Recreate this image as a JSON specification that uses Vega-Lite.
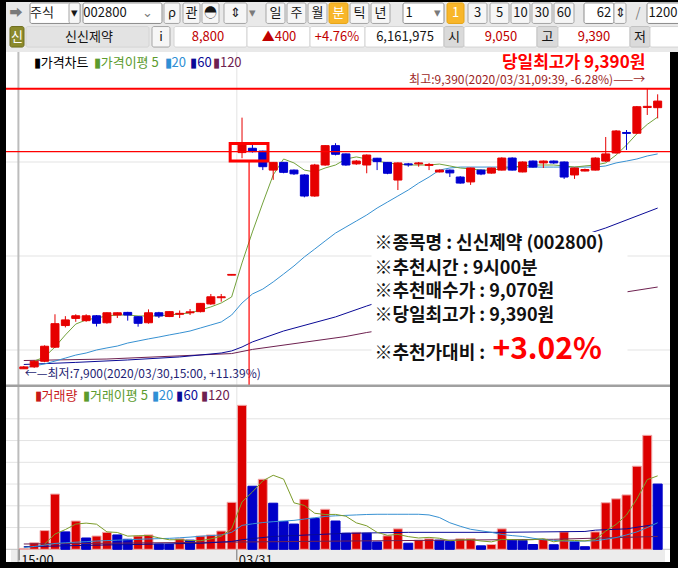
{
"$schema": "https://vega.github.io/schema/vega-lite/v6.json",
"background": "#000000",
"padding": {"left": 4, "top": 2, "right": 0, "bottom": 6},
"spacing": 0,
"bounds": "flush",
"resolve": {"scale": {"fill": "independent", "stroke": "independent", "color": "independent"}},
"config": {"view": {"stroke": null}, "font": "Noto Sans CJK KR"},
"datasets": {
"bars": [
{"i":0,"o":7900,"h":7915,"l":7900,"c":7910,"v":2,"vd":"up","m20":7904,"m60":7923,"m120":7944,"v20":3.7,"v60":6,"v120":12.2},
{"i":1,"o":7910,"h":7945,"l":7905,"c":7940,"v":15,"vd":"up","m5":7941,"m20":7915,"v20":6.5},
{"i":2,"o":7940,"h":8025,"l":7935,"c":8020,"v":43,"vd":"up","m5":7963,"m20":7926,"v5":12,"v20":9.5},
{"i":3,"o":8015,"h":8190,"l":8010,"c":8140,"v":127,"vd":"up","m5":8016,"m20":7941,"v5":35,"v20":13.5},
{"i":4,"o":8130,"h":8180,"l":8120,"c":8160,"v":40,"vd":"down","m5":8080,"m20":7957,"v5":45.4,"v20":15},
{"i":5,"o":8168,"h":8190,"l":8150,"c":8182,"v":65,"vd":"up","m5":8138,"m20":7973,"m60":7934,"v5":58,"v20":16.3},
{"i":6,"o":8156,"h":8190,"l":8150,"c":8182,"v":26,"vd":"down","m5":8160,"m20":7984,"v5":60.2,"v20":17.5},
{"i":7,"o":8182,"h":8186,"l":8125,"c":8142,"v":30.5,"vd":"up","m5":8170,"m20":8000,"v5":57.7,"v20":19},
{"i":8,"o":8145,"h":8200,"l":8140,"c":8198,"v":39,"vd":"up","m5":8181,"m20":8011,"m120":7952,"v5":40.1,"v20":20,"v60":10},
{"i":9,"o":8186,"h":8200,"l":8170,"c":8198,"v":33,"vd":"down","m5":8186,"m20":8021,"v5":38.7,"v20":21},
{"i":10,"o":8200,"h":8203,"l":8156,"c":8186,"v":23,"vd":"down","m5":8186,"m20":8037,"m60":7947,"v5":30.3,"v20":22},
{"i":11,"o":8177,"h":8180,"l":8124,"c":8142,"v":30.5,"vd":"up","m5":8181,"m20":8048,"v5":31.2,"v20":23},
{"i":12,"o":8145,"h":8216,"l":8140,"c":8198,"v":33,"vd":"up","m5":8181,"m20":8059,"v5":31.7,"v20":23.8},
{"i":13,"o":8198,"h":8203,"l":8170,"c":8181,"v":12,"vd":"down","m5":8181,"m20":8069,"v5":26.3,"v20":24.5},
{"i":14,"o":8178,"h":8206,"l":8175,"c":8204,"v":11,"vd":"down","m5":8186,"m20":8080,"v5":21.9,"v20":25.2},
{"i":15,"o":8190,"h":8210,"l":8170,"c":8195,"v":24,"vd":"up","m5":8192,"m20":8090,"m60":7963,"v5":22.1,"v20":26.5},
{"i":16,"o":8198,"h":8218,"l":8186,"c":8203,"v":21,"vd":"down","m5":8197,"m20":8101,"v5":20.2,"v20":28},
{"i":17,"o":8204,"h":8250,"l":8200,"c":8248,"v":30.5,"vd":"up","m5":8213,"m20":8117,"v5":19.7,"v20":30,"v60":13.8},
{"i":18,"o":8245,"h":8298,"l":8240,"c":8283,"v":33,"vd":"up","m5":8229,"m20":8133,"v5":23.9,"v20":31.5},
{"i":19,"o":8278,"h":8298,"l":8257,"c":8283,"v":42,"vd":"up","m5":8250,"m20":8149,"m60":7984,"v5":30.1,"v20":33},
{"i":20,"o":8398,"h":8402,"l":8398,"c":8402,"v":108,"vd":"up","m5":8282,"m20":8186,"m60":7995,"m120":7981,"v5":46.9,"v20":39,"v60":18},
{"i":21,"o":9050,"h":9236,"l":9020,"c":9095,"v":331,"vd":"up","m5":8463,"m20":8250,"m60":8016,"v5":108.9,"v20":55,"v60":22},
{"i":22,"o":9073,"h":9094,"l":9050,"c":9055,"v":145,"vd":"down","m5":8628,"m20":8298,"m60":8043,"m120":8003,"v5":131.8,"v20":58.5},
{"i":23,"o":9058,"h":9060,"l":8957,"c":8975,"v":161,"vd":"up","m5":8782,"m20":8324,"v5":157.4,"v20":61.5},
{"i":24,"o":8957,"h":9000,"l":8905,"c":8998,"v":106,"vd":"down","m5":8931,"m20":8362,"v5":170.2,"v20":63.5,"v60":29.5},
{"i":25,"o":8998,"h":9000,"l":8940,"c":8945,"v":64,"vd":"down","m5":9016,"m20":8404,"m60":8101,"v5":161.4,"v20":65},
{"i":26,"o":8957,"h":8960,"l":8931,"c":8937,"v":58,"vd":"down","m5":8995,"m20":8447,"v5":106.8,"v20":66.5},
{"i":27,"o":8931,"h":8935,"l":8812,"c":8819,"v":115,"vd":"up","m5":8957,"m20":8495,"v5":100.8,"v20":69.5},
{"i":28,"o":8819,"h":8990,"l":8815,"c":8984,"v":71,"vd":"down","m5":8947,"m20":8537,"v5":82.8,"v20":72.5},
{"i":29,"o":8984,"h":9090,"l":8980,"c":9087,"v":92,"vd":"up","m5":8968,"m20":8580,"v5":80,"v20":75.5},
{"i":30,"o":9087,"h":9100,"l":9035,"c":9041,"v":65,"vd":"down","m5":8984,"m20":8622,"m60":8176,"v5":80.2,"v20":77},
{"i":31,"o":9043,"h":9045,"l":8980,"c":8984,"v":37,"vd":"down","m5":9016,"m20":8654,"m120":8072,"v5":76,"v20":78,"v60":36.8,"v120":19},
{"i":32,"o":8990,"h":9010,"l":8985,"c":9005,"v":39,"vd":"up","m5":9027,"m20":8686,"v5":60.8,"v20":79},
{"i":33,"o":8984,"h":9040,"l":8940,"c":9037,"v":37,"vd":"down","m5":9016,"m20":8718,"m60":8234,"m120":8093,"v5":54,"v20":80},
{"i":34,"o":9020,"h":9022,"l":8957,"c":9002,"v":17,"vd":"down","m5":9005,"m20":8755,"v5":39,"v20":80.5},
{"i":35,"o":8998,"h":9000,"l":8935,"c":8940,"v":31,"vd":"up","m5":8995,"m20":8787,"v5":32.2,"v20":80.5},
{"i":36,"o":8904,"h":8998,"l":8851,"c":8995,"v":47,"vd":"up","m5":8989,"m20":8819,"v5":34.2,"v20":80.5},
{"i":37,"o":8990,"h":8995,"l":8975,"c":8985,"v":14,"vd":"down","m5":8984,"m20":8851,"v5":29.2,"v20":80.5,"v60":39},
{"i":38,"o":8990,"h":9000,"l":8975,"c":8995,"v":21,"vd":"up","m5":8984,"m20":8888,"v5":26,"v20":80.5},
{"i":39,"o":8982,"h":8995,"l":8957,"c":8987,"v":24,"vd":"up","m5":8984,"m20":8920,"v5":27.4,"v20":79},
{"i":40,"o":8947,"h":8960,"l":8945,"c":8957,"v":21,"vd":"down","m5":8989,"m20":8957,"v5":25.4,"v20":73},
{"i":41,"o":8957,"h":8960,"l":8920,"c":8942,"v":18,"vd":"down","m5":8979,"m20":8968,"v5":19.6,"v20":61},
{"i":42,"o":8920,"h":8925,"l":8885,"c":8888,"v":24,"vd":"up","m5":8968,"m20":8973,"v5":21.6,"v20":53},
{"i":43,"o":8894,"h":8970,"l":8878,"c":8968,"v":24.5,"vd":"up","m5":8963,"m20":8973,"v5":22.3,"v20":46},
{"i":44,"o":8957,"h":8960,"l":8930,"c":8936,"v":8,"vd":"down","m5":8957,"m20":8973,"v5":19.1,"v20":42.5},
{"i":45,"o":8941,"h":8970,"l":8938,"c":8968,"v":11,"vd":"up","m5":8957,"m20":8973,"v5":17.1,"v20":39},
{"i":46,"o":8957,"h":9025,"l":8955,"c":9021,"v":47,"vd":"up","m5":8963,"m20":8973,"v5":22.9,"v20":34,"v60":39},
{"i":47,"o":9021,"h":9025,"l":8955,"c":8957,"v":21,"vd":"down","m5":8973,"m20":8973,"v5":22.3,"v20":31.5},
{"i":48,"o":8947,"h":9003,"l":8945,"c":9000,"v":20.5,"vd":"down","m5":8979,"m20":8973,"v5":21.5,"v20":29.5},
{"i":49,"o":9005,"h":9008,"l":8970,"c":8973,"v":11,"vd":"down","m5":8984,"m20":8973,"v5":22.1,"v20":25.5},
{"i":50,"o":8995,"h":9008,"l":8968,"c":9005,"v":23,"vd":"up","m5":8984,"m20":8973,"v5":24.5,"v20":22},
{"i":51,"o":9005,"h":9008,"l":8990,"c":8995,"v":10.5,"vd":"down","m5":8984,"m20":8973,"v5":17.2,"v20":20.5,"v120":23},
{"i":52,"o":9000,"h":9003,"l":8910,"c":8920,"v":40,"vd":"up","m5":8979,"m20":8973,"v5":21,"v20":19},
{"i":53,"o":8931,"h":8970,"l":8910,"c":8968,"v":17,"vd":"down","m5":8973,"m20":8973,"v5":20.3,"v20":18.5},
{"i":54,"o":8952,"h":8965,"l":8950,"c":8960,"v":6,"vd":"down","m5":8979,"m20":8973,"v5":19.3,"v20":19,"v60":41},
{"i":55,"o":8957,"h":9025,"l":8955,"c":9021,"v":40,"vd":"up","m5":8984,"m20":8973,"v5":22.7,"v20":19.6,"v60":44},
{"i":56,"o":9005,"h":9133,"l":9000,"c":9043,"v":107,"vd":"up","m5":8995,"m20":8979,"m60":8649,"v5":42,"v20":23},
{"i":57,"o":9048,"h":9170,"l":9045,"c":9165,"v":116,"vd":"up","m5":9037,"m20":8995,"v5":57.2,"v20":27},
{"i":58,"o":9157,"h":9170,"l":9064,"c":9152,"v":125,"vd":"up","m5":9090,"m20":9005,"m120":8309,"v5":78.8,"v20":33,"v60":47},
{"i":59,"o":9153,"h":9298,"l":9150,"c":9294,"v":191,"vd":"up","m5":9150,"m20":9016,"v5":115.8,"v20":40},
{"i":60,"o":9290,"h":9390,"l":9250,"c":9296,"v":262,"vd":"up","m5":9200,"m20":9032,"v5":160.2,"v20":50},
{"i":61,"o":9289,"h":9360,"l":9232,"c":9324,"v":150,"vd":"down","m5":9239,"m20":9043,"m60":8755,"m120":8335,"v5":168.8,"v20":61,"v60":58,"v120":29.5}
],
"hdr": [
{"r":1,"x0":6,"x1":22,"tx":14,"k":"plain","t":"➡"},
{"r":1,"x0":28,"x1":78,"tx":40,"k":"field","t":"주식"},
{"r":1,"x0":67,"x1":78,"tx":72.5,"k":"btn","t":"▾"},
{"r":1,"x0":81,"x1":160,"tx":103,"k":"field","t":"002800"},
{"r":1,"x0":140,"x1":150,"tx":145,"k":"plain","t":"⌄"},
{"r":1,"x0":162,"x1":178,"tx":170,"k":"btn","t":"ρ"},
{"r":1,"x0":181,"x1":198,"tx":189.5,"k":"btn","t":"관"},
{"r":1,"x0":200,"x1":217,"tx":208.5,"k":"btn","t":"◓"},
{"r":1,"x0":222,"x1":245,"tx":233.5,"k":"btn","t":"⇕"},
{"r":1,"x0":246,"x1":254,"tx":250,"k":"plain","t":"▾"},
{"r":1,"x0":264,"x1":283,"tx":273.5,"k":"btn","t":"일"},
{"r":1,"x0":285,"x1":304,"tx":294.5,"k":"btn","t":"주"},
{"r":1,"x0":306,"x1":325,"tx":315.5,"k":"btn","t":"월"},
{"r":1,"x0":327,"x1":346,"tx":336.5,"k":"act","t":"분"},
{"r":1,"x0":348,"x1":367,"tx":357.5,"k":"btn","t":"틱"},
{"r":1,"x0":369,"x1":388,"tx":378.5,"k":"btn","t":"년"},
{"r":1,"x0":401,"x1":442,"tx":407,"k":"field","t":"1"},
{"r":1,"x0":428,"x1":442,"tx":435,"k":"plain","t":"▾"},
{"r":1,"x0":445,"x1":462,"tx":453.5,"k":"act","t":"1"},
{"r":1,"x0":466,"x1":485,"tx":475.5,"k":"btn","t":"3"},
{"r":1,"x0":488,"x1":507,"tx":497.5,"k":"btn","t":"5"},
{"r":1,"x0":509,"x1":528,"tx":518.5,"k":"btn","t":"10"},
{"r":1,"x0":530,"x1":550,"tx":540,"k":"btn","t":"30"},
{"r":1,"x0":552,"x1":572,"tx":562,"k":"btn","t":"60"},
{"r":1,"x0":582,"x1":612,"tx":602,"k":"field","t":"62"},
{"r":1,"x0":612,"x1":624,"tx":618,"k":"btn","t":"⇕"},
{"r":1,"x0":630,"x1":642,"tx":636,"k":"plain","t":"/"},
{"r":1,"x0":645,"x1":678,"tx":661,"k":"field","t":"1200"},
{"r":2,"x0":8,"x1":22,"tx":15,"k":"ico","t":"신"},
{"r":2,"x0":24,"x1":147,"tx":87,"k":"name","t":"신신제약"},
{"r":2,"x0":150,"x1":168,"tx":159,"k":"btn","t":"i"},
{"r":2,"x0":172,"x1":245,"tx":206,"k":"cell","t":"8,800","tone":"up"},
{"r":2,"x0":245,"x1":308,"tx":277,"k":"cell","t":"▲400","tone":"up"},
{"r":2,"x0":308,"x1":363,"tx":335,"k":"cell","t":"+4.76%","tone":"up"},
{"r":2,"x0":363,"x1":442,"tx":403,"k":"cell","t":"6,161,975"},
{"r":2,"x0":442,"x1":462,"tx":452,"k":"lab","t":"시"},
{"r":2,"x0":462,"x1":535,"tx":499,"k":"cell","t":"9,050","tone":"up"},
{"r":2,"x0":535,"x1":556,"tx":545.5,"k":"lab","t":"고"},
{"r":2,"x0":556,"x1":628,"tx":592,"k":"cell","t":"9,390","tone":"up"},
{"r":2,"x0":628,"x1":648,"tx":638,"k":"lab","t":"저"},
{"r":2,"x0":648,"x1":678,"tx":663,"k":"cell","t":""}
],
"plegend": [
{"li":0.95,"t":"▮가격차트","k":"candle"},
{"li":6.73,"t":"▮가격이평 5","k":"ma5"},
{"li":13.55,"t":"▮20","k":"ma20"},
{"li":16.02,"t":"▮60","k":"ma60"},
{"li":18.2,"t":"▮120","k":"ma120"}
],
"vlegend": [
{"li":1.04,"t":"▮거래량","k":"vol"},
{"li":5.69,"t":"▮거래이평 5","k":"ma5"},
{"li":12.32,"t":"▮20","k":"ma20"},
{"li":14.69,"t":"▮60","k":"ma60"},
{"li":17.06,"t":"▮120","k":"ma120"}
],
"notes": [
{"i":33.74,"p":8564,"t":"※종목명 : 신신제약 (002800)","kind":"box"},
{"i":33.74,"p":8433,"t":"※추천시간 : 9시00분","kind":"box"},
{"i":33.74,"p":8308,"t":"※추천매수가 : 9,070원","kind":"box"},
{"i":33.74,"p":8181,"t":"※당일최고가 : 9,390원","kind":"box"},
{"i":33.74,"p":7979,"t":"※추천가대비 :","kind":"box"},
{"i":45.1,"p":8000,"t":"+3.02%","kind":"big"},
{"i":59.81,"p":9529,"t":"당일최고가 9,390원","kind":"hi"},
{"i":59.81,"p":9434,"t":"최고:9,390(2020/03/31,09:39, -6.28%)——→","kind":"hisub"},
{"i":0.1,"p":7872,"t":"←—최저:7,900(2020/03/30,15:00, +11.39%)","kind":"lo"}
],
"pgrid": [{"g":8000},{"g":8500},{"g":9000}],
"vgrid": [{"g":50},{"g":100},{"g":150},{"g":200},{"g":250},{"g":300}],
"xlab": [{"i":-0.45,"lab":"15:00"},{"i":20.5,"lab":"03/31"}]
},
"vconcat": [
{
"width": 674, "height": 50,
"view": {"fill": "#e9e9e9", "stroke": null},
"data": {"name": "hdr"},
"layer": [
{"transform": [{"filter": "datum.k !== 'plain'"}],
 "mark": {"type": "rect", "cornerRadius": 2, "strokeWidth": 1},
 "encoding": {
  "x": {"field": "x0", "type": "quantitative", "scale": {"domain": [4, 678], "nice": false, "zero": false}, "axis": null},
  "x2": {"field": "x1"},
  "y": {"field": "r", "type": "ordinal", "scale": {"domain": [1, 2], "range": [0, 46], "paddingInner": 0.13, "paddingOuter": 0.04}, "axis": null},
  "fill": {"condition": [{"test": "datum.k === 'btn'", "value": "#f6f6f6"}, {"test": "datum.k === 'act'", "value": "#f8b62a"}, {"test": "datum.k === 'ico'", "value": "#8b8a2c"}, {"test": "datum.k === 'name'", "value": "#e3e3e3"}, {"test": "datum.k === 'lab'", "value": "#dadada"}], "value": "#ffffff"},
  "stroke": {"condition": [{"test": "datum.k === 'btn'", "value": "#a5a5a5"}, {"test": "datum.k === 'field'", "value": "#8c8c8c"}, {"test": "datum.k === 'act'", "value": "#e5a516"}, {"test": "datum.k === 'ico'", "value": "#6e6d1e"}, {"test": "datum.k === 'lab'", "value": "#c2c2c2"}], "value": "#d4d4d4"}
 }},
{"mark": {"type": "text", "fontSize": 13, "baseline": "middle", "align": "center"},
 "encoding": {
  "x": {"field": "tx", "type": "quantitative", "scale": {"domain": [4, 678], "nice": false, "zero": false}, "axis": null},
  "y": {"field": "r", "type": "ordinal", "scale": {"domain": [1, 2], "range": [0, 46], "paddingInner": 0.13, "paddingOuter": 0.04}, "axis": null},
  "text": {"field": "t"},
  "color": {"condition": [{"test": "datum.tone === 'up'", "value": "#c00000"}, {"test": "datum.k === 'act' || datum.k === 'ico'", "value": "#ffffff"}, {"test": "datum.k === 'plain'", "value": "#7a7a7a"}], "value": "#151515"}
 }}
]
},
{
"width": 664, "height": 333,
"view": {"fill": "#ffffff", "stroke": null},
"data": {"name": "bars"},
"layer": [
{"data": {"name": "pgrid"}, "mark": {"type": "rule", "color": "#e3e3e3", "strokeWidth": 1},
 "encoding": {"y": {"field": "g", "type": "quantitative", "scale": {"domain": [7813.8, 9585.1], "nice": false, "zero": false}, "axis": null}}},
{"data": {"values": [{}]}, "mark": {"type": "rule", "color": "#e3e3e3", "strokeWidth": 1},
 "encoding": {"x": {"datum": 20.5, "type": "quantitative", "scale": {"domain": [-1.232, 61.706], "nice": false, "zero": false}, "axis": null}}},
{"data": {"values": [{}]}, "mark": {"type": "rule", "color": "#bcbcbc", "strokeWidth": 2},
 "encoding": {"x": {"datum": -0.52, "type": "quantitative", "scale": {"domain": [-1.232, 61.706], "nice": false, "zero": false}, "axis": null}}},
{"transform": [{"filter": "isValid(datum.m120)"}], "mark": {"type": "line", "color": "#6e2150", "strokeWidth": 1},
 "encoding": {"x": {"field": "i", "type": "quantitative", "scale": {"domain": [-1.232, 61.706], "nice": false, "zero": false}, "axis": null},
  "y": {"field": "m120", "type": "quantitative", "scale": {"domain": [7813.8, 9585.1], "nice": false, "zero": false}, "axis": null}}},
{"transform": [{"filter": "isValid(datum.m60)"}], "mark": {"type": "line", "color": "#0a0a96", "strokeWidth": 1},
 "encoding": {"x": {"field": "i", "type": "quantitative", "scale": {"domain": [-1.232, 61.706], "nice": false, "zero": false}, "axis": null},
  "y": {"field": "m60", "type": "quantitative", "scale": {"domain": [7813.8, 9585.1], "nice": false, "zero": false}, "axis": null}}},
{"transform": [{"filter": "isValid(datum.m20)"}], "mark": {"type": "line", "color": "#3791d2", "strokeWidth": 1},
 "encoding": {"x": {"field": "i", "type": "quantitative", "scale": {"domain": [-1.232, 61.706], "nice": false, "zero": false}, "axis": null},
  "y": {"field": "m20", "type": "quantitative", "scale": {"domain": [7813.8, 9585.1], "nice": false, "zero": false}, "axis": null}}},
{"transform": [{"filter": "isValid(datum.m5)"}], "mark": {"type": "line", "color": "#73a23c", "strokeWidth": 1},
 "encoding": {"x": {"field": "i", "type": "quantitative", "scale": {"domain": [-1.232, 61.706], "nice": false, "zero": false}, "axis": null},
  "y": {"field": "m5", "type": "quantitative", "scale": {"domain": [7813.8, 9585.1], "nice": false, "zero": false}, "axis": null}}},
{"mark": {"type": "rule", "strokeWidth": 1},
 "encoding": {"x": {"field": "i", "type": "quantitative", "scale": {"domain": [-1.232, 61.706], "nice": false, "zero": false}, "axis": null},
  "y": {"field": "l", "type": "quantitative", "scale": {"domain": [7813.8, 9585.1], "nice": false, "zero": false}, "axis": null},
  "y2": {"field": "h"},
  "color": {"condition": {"test": "datum.c >= datum.o", "value": "#e60000"}, "value": "#0000d0"}}},
{"mark": {"type": "bar", "width": 8, "strokeWidth": 1},
 "encoding": {"x": {"field": "i", "type": "quantitative", "scale": {"domain": [-1.232, 61.706], "nice": false, "zero": false}, "axis": null},
  "y": {"field": "o", "type": "quantitative", "scale": {"domain": [7813.8, 9585.1], "nice": false, "zero": false}, "axis": null},
  "y2": {"field": "c"},
  "fill": {"condition": {"test": "datum.c >= datum.o", "value": "#e60000"}, "value": "#0000d0"},
  "stroke": {"condition": {"test": "datum.c >= datum.o", "value": "#e60000"}, "value": "#0000d0"}}},
{"data": {"values": [{}]}, "mark": {"type": "rule", "color": "#ff0000", "strokeWidth": 2},
 "encoding": {"y": {"datum": 9390, "type": "quantitative", "scale": {"domain": [7813.8, 9585.1], "nice": false, "zero": false}, "axis": null}}},
{"data": {"values": [{}]}, "mark": {"type": "rule", "color": "#ff0000", "strokeWidth": 1.2},
 "encoding": {"y": {"datum": 9055, "type": "quantitative", "scale": {"domain": [7813.8, 9585.1], "nice": false, "zero": false}, "axis": null}}},
{"data": {"values": [{}]}, "mark": {"type": "rect", "color": "#ffffff"},
 "encoding": {"x": {"datum": 33.46, "type": "quantitative", "scale": {"domain": [-1.232, 61.706], "nice": false, "zero": false}, "axis": null},
  "x2": {"datum": 58.1},
  "y": {"datum": 8628, "type": "quantitative", "scale": {"domain": [7813.8, 9585.1], "nice": false, "zero": false}, "axis": null},
  "y2": {"datum": 7883}}},
{"data": {"name": "notes"}, "transform": [{"filter": "datum.kind === 'box'"}],
 "mark": {"type": "text", "fontSize": 18, "fontWeight": "bold", "align": "left", "baseline": "middle", "color": "#111111"},
 "encoding": {"x": {"field": "i", "type": "quantitative", "scale": {"domain": [-1.232, 61.706], "nice": false, "zero": false}, "axis": null},
  "y": {"field": "p", "type": "quantitative", "scale": {"domain": [7813.8, 9585.1], "nice": false, "zero": false}, "axis": null},
  "text": {"field": "t"}}},
{"data": {"name": "notes"}, "transform": [{"filter": "datum.kind === 'big'"}],
 "mark": {"type": "text", "fontSize": 30, "fontWeight": "bold", "align": "left", "baseline": "middle", "color": "#ff0000"},
 "encoding": {"x": {"field": "i", "type": "quantitative", "scale": {"domain": [-1.232, 61.706], "nice": false, "zero": false}, "axis": null},
  "y": {"field": "p", "type": "quantitative", "scale": {"domain": [7813.8, 9585.1], "nice": false, "zero": false}, "axis": null},
  "text": {"field": "t"}}},
{"data": {"name": "notes"}, "transform": [{"filter": "datum.kind === 'hi'"}],
 "mark": {"type": "text", "fontSize": 17, "fontWeight": "bold", "align": "right", "baseline": "middle", "color": "#ff0000"},
 "encoding": {"x": {"field": "i", "type": "quantitative", "scale": {"domain": [-1.232, 61.706], "nice": false, "zero": false}, "axis": null},
  "y": {"field": "p", "type": "quantitative", "scale": {"domain": [7813.8, 9585.1], "nice": false, "zero": false}, "axis": null},
  "text": {"field": "t"}}},
{"data": {"name": "notes"}, "transform": [{"filter": "datum.kind === 'hisub'"}],
 "mark": {"type": "text", "fontSize": 12, "align": "right", "baseline": "middle", "color": "#9c1f1f"},
 "encoding": {"x": {"field": "i", "type": "quantitative", "scale": {"domain": [-1.232, 61.706], "nice": false, "zero": false}, "axis": null},
  "y": {"field": "p", "type": "quantitative", "scale": {"domain": [7813.8, 9585.1], "nice": false, "zero": false}, "axis": null},
  "text": {"field": "t"}}},
{"data": {"name": "notes"}, "transform": [{"filter": "datum.kind === 'lo'"}],
 "mark": {"type": "text", "fontSize": 12, "align": "left", "baseline": "middle", "color": "#1f1f74"},
 "encoding": {"x": {"field": "i", "type": "quantitative", "scale": {"domain": [-1.232, 61.706], "nice": false, "zero": false}, "axis": null},
  "y": {"field": "p", "type": "quantitative", "scale": {"domain": [7813.8, 9585.1], "nice": false, "zero": false}, "axis": null},
  "text": {"field": "t"}}},
{"data": {"values": [{}]}, "mark": {"type": "rule", "color": "#ff0000", "strokeWidth": 1.2},
 "encoding": {"x": {"datum": 21.68, "type": "quantitative", "scale": {"domain": [-1.232, 61.706], "nice": false, "zero": false}, "axis": null},
  "y": {"datum": 9005, "type": "quantitative", "scale": {"domain": [7813.8, 9585.1], "nice": false, "zero": false}, "axis": null},
  "y2": {"datum": 7813.8}}},
{"data": {"values": [{}]}, "mark": {"type": "rect", "filled": false, "color": "#ff0000", "strokeWidth": 3},
 "encoding": {"x": {"datum": 19.86, "type": "quantitative", "scale": {"domain": [-1.232, 61.706], "nice": false, "zero": false}, "axis": null},
  "x2": {"datum": 23.5},
  "y": {"datum": 9098, "type": "quantitative", "scale": {"domain": [7813.8, 9585.1], "nice": false, "zero": false}, "axis": null},
  "y2": {"datum": 9005}}},
{"data": {"name": "plegend"},
 "mark": {"type": "text", "fontSize": 13, "align": "left", "baseline": "middle"},
 "encoding": {"x": {"field": "li", "type": "quantitative", "scale": {"domain": [-1.232, 61.706], "nice": false, "zero": false}, "axis": null},
  "y": {"datum": 9527, "type": "quantitative", "scale": {"domain": [7813.8, 9585.1], "nice": false, "zero": false}, "axis": null},
  "text": {"field": "t"},
  "color": {"field": "k", "type": "nominal", "scale": {"domain": ["candle","vol","ma5","ma20","ma60","ma120"], "range": ["#000000","#c81818","#5b9b2d","#2f8fd5","#0a0a96","#6e2150"]}, "legend": null}}}
]
},
{
"width": 664, "height": 177,
"view": {"fill": "#ffffff", "stroke": null},
"data": {"name": "bars"},
"layer": [
{"data": {"values": [{}]}, "mark": {"type": "rect", "color": "#ececec"},
 "encoding": {"x": {"datum": -1.232, "type": "quantitative", "scale": {"domain": [-1.232, 61.706], "nice": false, "zero": false}, "axis": null},
  "x2": {"datum": 61.706},
  "y": {"datum": -29.2, "type": "quantitative", "scale": {"domain": [-29.2, 377.7], "nice": false, "zero": false}, "axis": null},
  "y2": {"datum": 0}}},
{"data": {"name": "vgrid"}, "mark": {"type": "rule", "color": "#e3e3e3", "strokeWidth": 1},
 "encoding": {"y": {"field": "g", "type": "quantitative", "scale": {"domain": [-29.2, 377.7], "nice": false, "zero": false}, "axis": null}}},
{"data": {"values": [{}]}, "mark": {"type": "rule", "color": "#c4c4c4", "strokeWidth": 1},
 "encoding": {"y": {"datum": 0, "type": "quantitative", "scale": {"domain": [-29.2, 377.7], "nice": false, "zero": false}, "axis": null}}},
{"data": {"values": [{}]}, "mark": {"type": "rule", "color": "#e3e3e3", "strokeWidth": 1},
 "encoding": {"x": {"datum": 20.5, "type": "quantitative", "scale": {"domain": [-1.232, 61.706], "nice": false, "zero": false}, "axis": null},
  "y": {"datum": 0, "type": "quantitative", "scale": {"domain": [-29.2, 377.7], "nice": false, "zero": false}, "axis": null},
  "y2": {"datum": 377.7}}},
{"data": {"values": [{}]}, "mark": {"type": "rule", "color": "#bcbcbc", "strokeWidth": 2},
 "encoding": {"x": {"datum": -0.52, "type": "quantitative", "scale": {"domain": [-1.232, 61.706], "nice": false, "zero": false}, "axis": null}}},
{"data": {"values": [{}]}, "mark": {"type": "rule", "color": "#a0a0a0", "strokeWidth": 2.5},
 "encoding": {"y": {"datum": 376.2, "type": "quantitative", "scale": {"domain": [-29.2, 377.7], "nice": false, "zero": false}, "axis": null}}},
{"mark": {"type": "bar", "width": 9, "strokeWidth": 1},
 "encoding": {"x": {"field": "i", "type": "quantitative", "scale": {"domain": [-1.232, 61.706], "nice": false, "zero": false}, "axis": null},
  "y": {"field": "v", "type": "quantitative", "scale": {"domain": [-29.2, 377.7], "nice": false, "zero": false}, "axis": null},
  "y2": {"datum": 0},
  "fill": {"condition": {"test": "datum.vd === 'up'", "value": "#dc0000"}, "value": "#0000c8"},
  "stroke": {"condition": {"test": "datum.vd === 'up'", "value": "#f0aaaa"}, "value": "#0000c8"}}},
{"transform": [{"filter": "isValid(datum.v120)"}], "mark": {"type": "line", "color": "#6e2150", "strokeWidth": 1},
 "encoding": {"x": {"field": "i", "type": "quantitative", "scale": {"domain": [-1.232, 61.706], "nice": false, "zero": false}, "axis": null},
  "y": {"field": "v120", "type": "quantitative", "scale": {"domain": [-29.2, 377.7], "nice": false, "zero": false}, "axis": null}}},
{"transform": [{"filter": "isValid(datum.v60)"}], "mark": {"type": "line", "color": "#0a0a96", "strokeWidth": 1},
 "encoding": {"x": {"field": "i", "type": "quantitative", "scale": {"domain": [-1.232, 61.706], "nice": false, "zero": false}, "axis": null},
  "y": {"field": "v60", "type": "quantitative", "scale": {"domain": [-29.2, 377.7], "nice": false, "zero": false}, "axis": null}}},
{"transform": [{"filter": "isValid(datum.v20)"}], "mark": {"type": "line", "color": "#3791d2", "strokeWidth": 1},
 "encoding": {"x": {"field": "i", "type": "quantitative", "scale": {"domain": [-1.232, 61.706], "nice": false, "zero": false}, "axis": null},
  "y": {"field": "v20", "type": "quantitative", "scale": {"domain": [-29.2, 377.7], "nice": false, "zero": false}, "axis": null}}},
{"transform": [{"filter": "isValid(datum.v5)"}], "mark": {"type": "line", "color": "#7c9c2a", "strokeWidth": 1},
 "encoding": {"x": {"field": "i", "type": "quantitative", "scale": {"domain": [-1.232, 61.706], "nice": false, "zero": false}, "axis": null},
  "y": {"field": "v5", "type": "quantitative", "scale": {"domain": [-29.2, 377.7], "nice": false, "zero": false}, "axis": null}}},
{"data": {"name": "xlab"}, "mark": {"type": "rule", "color": "#707070", "strokeWidth": 1},
 "encoding": {"x": {"field": "i", "type": "quantitative", "scale": {"domain": [-1.232, 61.706], "nice": false, "zero": false}, "axis": null},
  "y": {"datum": 0, "type": "quantitative", "scale": {"domain": [-29.2, 377.7], "nice": false, "zero": false}, "axis": null},
  "y2": {"datum": -25}}},
{"data": {"name": "xlab"}, "mark": {"type": "text", "fontSize": 13, "align": "left", "baseline": "alphabetic", "dx": 2, "color": "#111111", "clip": true},
 "encoding": {"x": {"field": "i", "type": "quantitative", "scale": {"domain": [-1.232, 61.706], "nice": false, "zero": false}, "axis": null},
  "y": {"datum": -36, "type": "quantitative", "scale": {"domain": [-29.2, 377.7], "nice": false, "zero": false}, "axis": null},
  "text": {"field": "lab"}}},
{"data": {"name": "vlegend"},
 "mark": {"type": "text", "fontSize": 13, "align": "left", "baseline": "middle"},
 "encoding": {"x": {"field": "li", "type": "quantitative", "scale": {"domain": [-1.232, 61.706], "nice": false, "zero": false}, "axis": null},
  "y": {"datum": 351.7, "type": "quantitative", "scale": {"domain": [-29.2, 377.7], "nice": false, "zero": false}, "axis": null},
  "text": {"field": "t"},
  "color": {"field": "k", "type": "nominal", "scale": {"domain": ["candle","vol","ma5","ma20","ma60","ma120"], "range": ["#000000","#c81818","#5b9b2d","#2f8fd5","#0a0a96","#6e2150"]}, "legend": null}}}
]
}
]
}
